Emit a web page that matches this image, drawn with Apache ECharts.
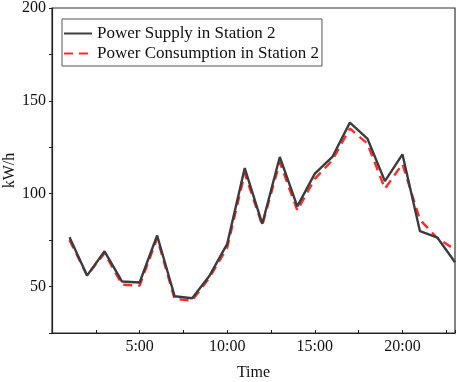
<!DOCTYPE html>
<html>
<head>
<meta charset="utf-8">
<script src="https://cdn.jsdelivr.net/npm/echarts@6/dist/echarts.min.js"></script>
<style>
  html, body { margin: 0; padding: 0; background: #fff; }
  #chart { width: 457px; height: 382px; }
</style>
</head>
<body>
<div id="chart"></div>
<script>
// hours of the day
var hours = [1, 2, 3, 4, 5, 6, 7, 8, 9, 10, 11, 12, 13, 14, 15, 16, 17, 18, 19, 20, 21, 22, 23]
var supply = [76.6, 55.9, 69, 52.7, 52.2, 77.5, 44.8, 43.7, 56, 73, 113.8, 83.8, 119.8, 93.2, 110.8, 119.8, 138.3, 129.7, 106.8, 121.2, 79.8, 76.3, 63.1]
var consumption = [75, 56, 68, 51, 50.5, 76, 43.3, 42.5, 55, 71, 111, 83, 117, 91, 108, 118, 135.1, 127, 102.7, 116, 86, 76, 70]
var xLabelHours = [5, 10, 15, 20]
var yLabelValues = [50, 100, 150, 200]

var font = 'Liberation Serif'

function pairs (ys) {
  return hours.map(function (h, i) { return [h, ys[i]] })
}

var chart = echarts.init(document.getElementById('chart'))
chart.setOption({
  animation: false,
  grid: {
    left: 52,
    right: 2,
    top: 8,
    bottom: 49,
    outerBoundsMode: 'none',
    containLabel: false,
    show: true,
    borderColor: '#333',
    borderWidth: 1.2
  },
  legend: {
    orient: 'vertical',
    left: 62,
    top: 19,
    padding: [6, 3, 4, 1],
    itemGap: 3,
    itemWidth: 28,
    itemHeight: 14,
    borderColor: '#555',
    borderWidth: 1,
    itemStyle: { opacity: 0 },
    textStyle: { fontFamily: font, fontSize: 17, color: '#111' },
    data: ['Power Supply in Station 2', 'Power Consumption in Station 2']
  },
  xAxis: {
    type: 'value',
    min: 0,
    max: 23,
    interval: 2.5,
    name: 'Time',
    nameLocation: 'middle',
    nameGap: 32,
    nameTextStyle: { fontFamily: font, fontSize: 16, color: '#111' },
    splitLine: { show: false },
    axisLine: { lineStyle: { color: '#222', width: 1.2 } },
    axisTick: { inside: true, length: 3, lineStyle: { color: '#222' } },
    axisLabel: {
      fontFamily: font,
      fontSize: 16,
      color: '#111',
      margin: 6,
      formatter: function (v) {
        return xLabelHours.indexOf(v) >= 0 ? v + ':00' : ''
      }
    }
  },
  yAxis: {
    type: 'value',
    min: 25,
    max: 200,
    interval: 25,
    name: 'kW/h',
    nameLocation: 'middle',
    nameGap: 34,
    nameMoveOverlap: false,
    nameTextStyle: { fontFamily: font, fontSize: 16, color: '#111' },
    splitLine: { show: false },
    axisLine: { show: true, lineStyle: { color: '#222', width: 1.2 } },
    axisTick: { show: true, length: 3, lineStyle: { color: '#222' } },
    axisLabel: {
      fontFamily: font,
      fontSize: 16,
      color: '#111',
      margin: 6,
      formatter: function (v) {
        return yLabelValues.indexOf(v) >= 0 ? String(v) : ''
      }
    }
  },
  series: [
    {
      name: 'Power Supply in Station 2',
      type: 'line',
      data: pairs(supply),
      symbol: 'none',
      itemStyle: { color: '#3c3c3c' },
      lineStyle: { color: '#3c3c3c', width: 2.4 },
      z: 3
    },
    {
      name: 'Power Consumption in Station 2',
      type: 'line',
      data: pairs(consumption),
      symbol: 'none',
      itemStyle: { color: '#ff2a2a' },
      lineStyle: { color: '#ff2a2a', width: 2.4, type: [9, 6] },
      z: 2
    }
  ]
})
</script>
</body>
</html>
